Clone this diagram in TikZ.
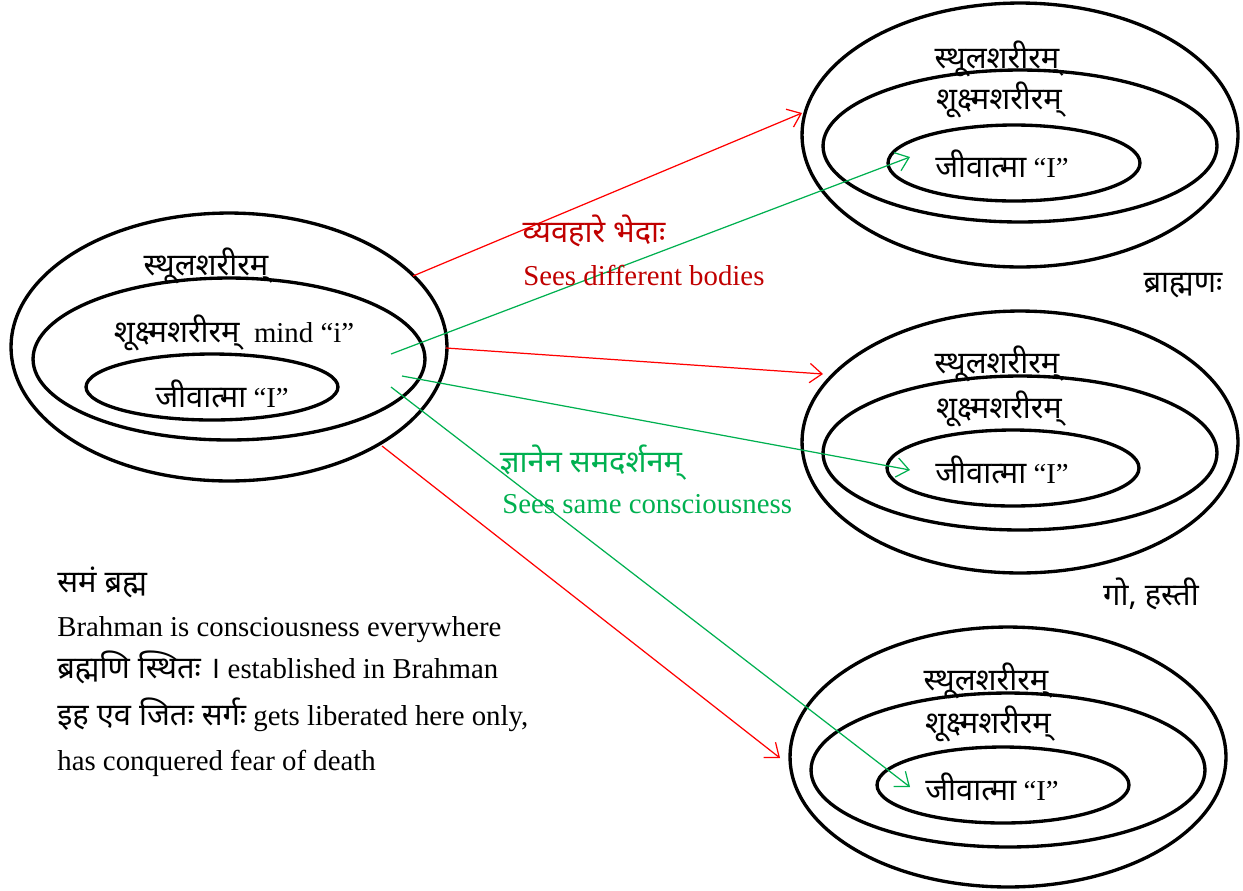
\documentclass[tikz,border=0pt]{standalone}
\usepackage{fontspec}
\setmainfont{Liberation Serif}
\newfontfamily\dev[Script=Devanagari,Scale=1.07]{Noto Sans}
\usetikzlibrary{shapes.geometric,arrows.meta}
\definecolor{rline}{HTML}{FF0000}
\definecolor{gline}{HTML}{00B050}
\definecolor{rtext}{HTML}{C00000}
\tikzset{
  ring/.style={draw, ellipse, line width=1.9pt, inner sep=0pt, outer sep=0pt},
  lbl/.style={inner sep=0pt, anchor=base, font=\fontsize{16.4}{19}\selectfont},
  lblw/.style={inner sep=0pt, anchor=base west, font=\fontsize{16.4}{19}\selectfont},
  redarrow/.style={draw=rline, line width=0.7pt, -{Straight Barb[length=7pt,width=11pt]}},
  greenarrow/.style={draw=gline, line width=0.7pt, -{Straight Barb[length=7pt,width=11pt]}},
}
\begin{document}
\begin{tikzpicture}[x=0.02cm,y=-0.02cm]
\useasboundingbox (0,0) rectangle (1243,890);
% left group
\node[ring, minimum width=8.72cm, minimum height=5.36cm] (Lo) at (229,347) {};
\node[ring, minimum width=7.84cm, minimum height=3.24cm] (Lm) at (229,359) {};
\node[ring, minimum width=5.04cm, minimum height=1.32cm] (Li) at (212,387) {};
\node[lbl] (Lot) at (206,275) {\dev स्थूलशरीरम्};
\node[lbl] (Lmt) at (234,342) {{\dev शूक्ष्मशरीरम्}\ \ mind “i”};
\node[lbl] (Lit) at (222,407) {{\dev जीवात्मा} “I”};
% top right group
\node[ring, minimum width=8.72cm, minimum height=5.28cm] (To) at (1020,135) {};
\node[ring, minimum width=7.88cm, minimum height=3.04cm] (Tm) at (1020,146) {};
\node[ring, minimum width=5.04cm, minimum height=1.52cm] (Ti) at (1014,163) {};
\node[lbl] (Tot) at (997,68) {\dev स्थूलशरीरम्};
\node[lbl] (Tmt) at (999,109) {\dev शूक्ष्मशरीरम्};
\node[lbl] (Tit) at (1002,177) {{\dev जीवात्मा} “I”};
\node[lbl] (Tname) at (1183,292) {\dev ब्राह्मणः};
% middle right group
\node[ring, minimum width=8.72cm, minimum height=5.24cm] (Mo) at (1020,442) {};
\node[ring, minimum width=7.88cm, minimum height=3.08cm] (Mm) at (1020,453) {};
\node[ring, minimum width=5.04cm, minimum height=1.52cm] (Mi) at (1013,468) {};
\node[lbl] (Mot) at (997,373) {\dev स्थूलशरीरम्};
\node[lbl] (Mmt) at (999,418) {\dev शूक्ष्मशरीरम्};
\node[lbl] (Mit) at (1002,483) {{\dev जीवात्मा} “I”};
\node[lbl] (Mname) at (1151,605) {\dev गो, हस्ती};
% bottom right group
\node[ring, minimum width=8.72cm, minimum height=5.20cm] (Bo) at (1008,757) {};
\node[ring, minimum width=7.88cm, minimum height=3.08cm] (Bm) at (1008,770) {};
\node[ring, minimum width=5.04cm, minimum height=1.52cm] (Bi) at (1003,785) {};
\node[lbl] (Bot) at (986,690) {\dev स्थूलशरीरम्};
\node[lbl] (Bmt) at (988,733) {\dev शूक्ष्मशरीरम्};
\node[lbl] (Bit) at (992,800) {{\dev जीवात्मा} “I”};
% arrow end points
\coordinate (r1s) at (413,276);
\coordinate (r1e) at (802,113);
\coordinate (g1s) at (391,354);
\coordinate (g1e) at (910,157);
\coordinate (r2s) at (446,348);
\coordinate (r2e) at (823,374);
\coordinate (g2s) at (402,376);
\coordinate (g2e) at (910,470);
\coordinate (g3s) at (391,387);
\coordinate (g3e) at (910,787);
\coordinate (r3s) at (382,446);
\coordinate (r3e) at (780,758);
\draw[redarrow] (r1s) -- (r1e);
\draw[redarrow] (r2s) -- (r2e);
\draw[redarrow] (r3s) -- (r3e);
\draw[greenarrow] (g1s) -- (g1e);
\draw[greenarrow] (g2s) -- (g2e);
\draw[greenarrow] (g3s) -- (g3e);
% arrow labels
\node[lbl, text=rtext] (rl1) at (594,242) {\dev व्यवहारे भेदाः};
\node[lblw, text=rtext] (rl2) at (523,285) {Sees different bodies};
\node[lbl, text=gline] (gl1) at (591,472) {\dev ज्ञानेन समदर्शनम्};
\node[lblw, text=gline] (gl2) at (502,513) {Sees same consciousness};
% bottom left text
\node[lblw] (t1) at (57,592) {\dev समं ब्रह्म};
\node[lblw] (t2) at (57,636) {Brahman is consciousness everywhere};
\node[lblw] (t3) at (57,678) {{\dev ब्रह्मणि स्थितः ।} established in Brahman};
\node[lblw] (t4) at (57,725) {{\dev इह एव जितः सर्गः} gets liberated here only,};
\node[lblw] (t5) at (57,770) {has conquered fear of death};
\end{tikzpicture}
\end{document}
